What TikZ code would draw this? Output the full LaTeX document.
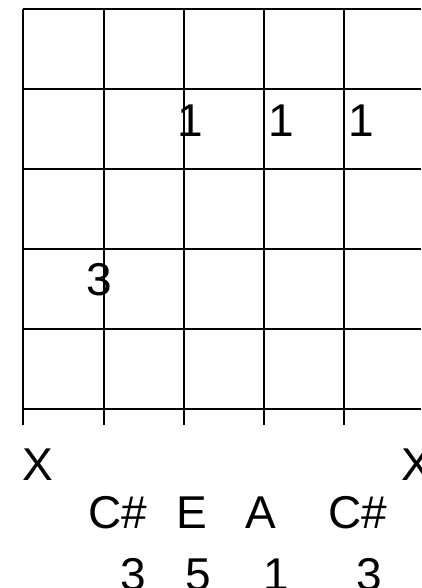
\documentclass[tikz,border=0pt]{standalone}
\usepackage{fontspec}
\setmainfont{Liberation Sans}
\usepackage{tikz}
\usetikzlibrary{positioning}

\begin{document}
\begin{tikzpicture}[x=1pt, y=-1pt,
    fret/.style={line width=2.8pt},
    string/.style={line width=2pt},
    lbl/.style={anchor=base west, inner sep=0pt, font=\fontsize{46}{50}\selectfont}]
        \useasboundingbox (0,0) rectangle (421,588);

        % frets and strings
        \foreach \y in {9,89,169,249,329,409}
          \draw[fret] (23,\y) -- (421,\y);
        \foreach \x in {23,104,184,264,344}
          \draw[string] (\x,9) -- (\x,425);

        % fingers
        \node (fa) [lbl] at (177,137) {1};
        \node (fb) [lbl] at (268,137) {1};
        \node (fc) [lbl] at (348,137) {1};
        \node (fd) [lbl] at (86,295) {3};

        % muted strings
        \node (xl) [lbl] at (22,480) {X};
        \node (xr) [lbl] at (401,480) {X};

        % notes and degrees
        \node (na) [lbl] at (88,528) {C\#};
        \node (nb) [lbl] at (176,528) {E};
        \node (nc) [lbl] at (245,528) {A};
        \node (nd) [lbl] at (328,528) {C\#};
        \node (da) [lbl] at (120,590) {3};
        \node (db) [lbl] at (185,590) {5};
        \node (dc) [lbl] at (263,590) {1};
        \node (dd) [lbl] at (356,590) {3};
      \end{tikzpicture}
\end{document}
